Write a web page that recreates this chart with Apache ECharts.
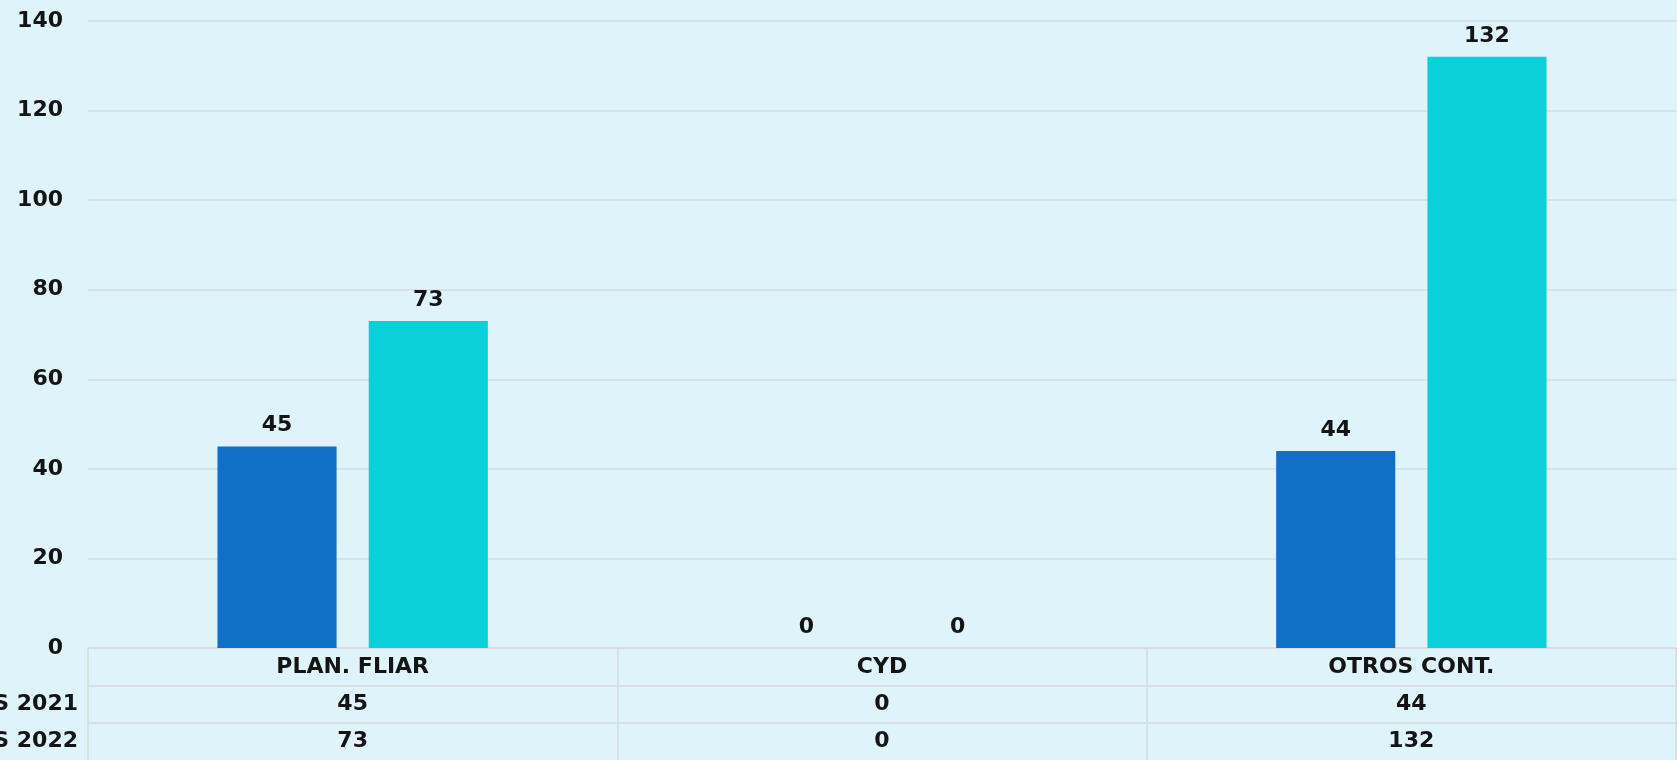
<!DOCTYPE html>
<html>
<head>
<meta charset="utf-8">
<script src="https://cdn.jsdelivr.net/npm/echarts@6/dist/echarts.min.js"></script>
<style>
  html, body { margin: 0; padding: 0; background: #dff3fa; }
  #chart { width: 1677px; height: 760px; }
</style>
</head>
<body>
<div id="chart"></div>
<script>
const categories = ['PLAN. FLIAR', 'CYD', 'OTROS CONT.']
const seriesNames = ['CASOS 2021', 'CASOS 2022']
const values2021 = [45, 0, 44]
const values2022 = [73, 0, 132]
const yMax = 140
const yStep = 20

const textFont = { fontFamily: 'DejaVu Sans', fontWeight: 'bold', fontSize: 22, color: '#141414' }
const lineColor = '#d6dadd'

const chart = echarts.init(document.getElementById('chart'))

// extra bottom axes only draw the horizontal lines of the data table
function tableLine(offset) {
  return {
    type: 'category',
    data: categories,
    position: 'bottom',
    offset: offset,
    axisLine: { show: true, lineStyle: { color: lineColor, width: 1.5 } },
    axisTick: { show: false },
    axisLabel: { show: false },
  }
}

chart.setOption({
  backgroundColor: '#dff3fa',
  animation: false,
  grid: { left: 88, right: 1, top: 21, bottom: 112 },
  xAxis: [
    {
      type: 'category',
      data: categories,
      axisLine: { show: true, lineStyle: { color: '#dcd7da', width: 1.5 } },
      axisTick: {
        show: true,
        alignWithLabel: false,
        interval: 0,
        length: 112,
        lineStyle: { color: lineColor, width: 1.5 },
      },
      axisLabel: {
        ...textFont,
        margin: 1,
        lineHeight: 37,
        interval: 0,
        formatter: (val, idx) => [val, values2021[idx], values2022[idx]].join('\n'),
      },
    },
    tableLine(38),
    tableLine(75),
  ],
  yAxis: {
    type: 'value',
    min: 0,
    max: yMax,
    interval: yStep,
    axisLine: { show: false },
    axisTick: { show: false },
    axisLabel: { ...textFont, margin: 25 },
    splitLine: { lineStyle: { color: '#d3dce1', width: 1.5 } },
  },
  graphic: seriesNames.map((name, i) => ({
    type: 'text',
    right: 1677 - 78,
    top: 686 + i * 37 + 7,
    style: { text: name, font: 'bold 22px "DejaVu Sans"', fill: '#141414' },
  })),
  series: [
    {
      name: seriesNames[0],
      type: 'bar',
      data: values2021,
      barWidth: '22.5%',
      barGap: '27%',
      itemStyle: { color: '#1070c6' },
      label: { show: true, position: 'top', distance: 10, ...textFont },
    },
    {
      name: seriesNames[1],
      type: 'bar',
      data: values2022,
      barWidth: '22.5%',
      barGap: '27%',
      itemStyle: { color: '#0bd0d9' },
      label: { show: true, position: 'top', distance: 10, ...textFont },
    },
  ],
})
</script>
</body>
</html>
